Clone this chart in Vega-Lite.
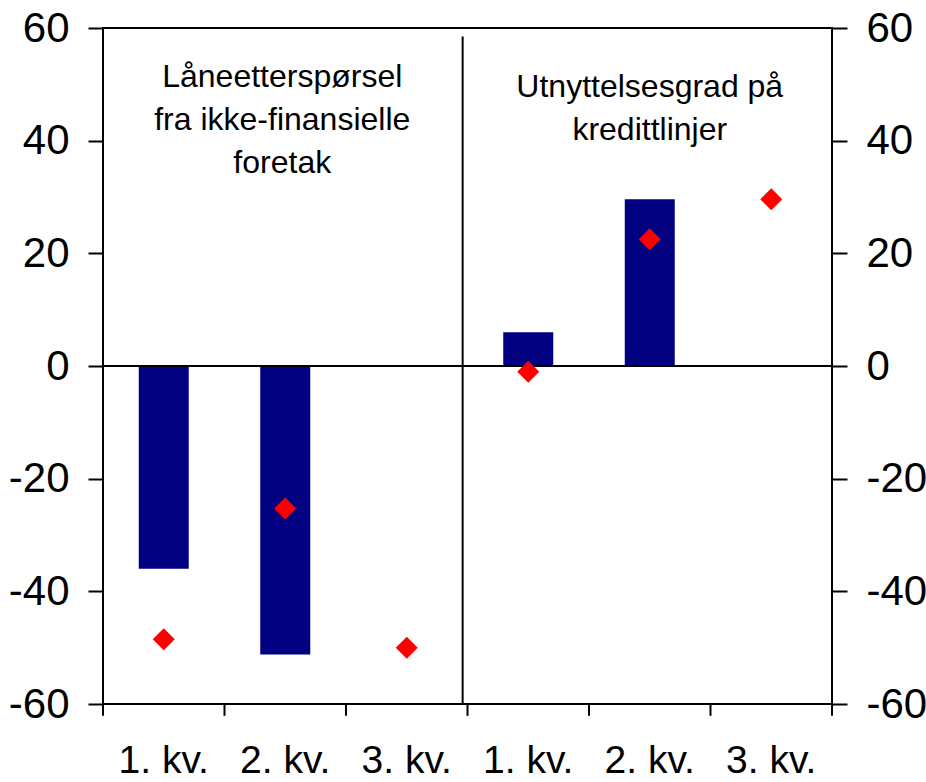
{
  "$schema": "https://vega.github.io/schema/vega-lite/v6.json",
  "width": 729,
  "height": 676,
  "padding": {"left": 8, "top": 7, "right": 0, "bottom": 0},
  "background": "white",
  "config": {
    "view": {"stroke": "black", "strokeWidth": 2},
    "font": "Liberation Sans",
    "axis": {
      "domain": false,
      "grid": false,
      "tickColor": "black",
      "tickWidth": 2,
      "labelColor": "black",
      "labelFont": "Liberation Sans",
      "labelFontSize": 42,
      "title": null
    }
  },
  "data": {
    "values": [
      {"key": "A1", "bar": -36.0, "pt": -48.5},
      {"key": "A2", "bar": -51.2, "pt": -25.3},
      {"key": "A3", "bar": null, "pt": -50.0},
      {"key": "B1", "bar": 6.0, "pt": -1.0},
      {"key": "B2", "bar": 29.6, "pt": 22.5},
      {"key": "B3", "bar": null, "pt": 29.6}
    ]
  },
  "layer": [
    {
      "mark": {"type": "bar", "color": "#000080", "size": 50},
      "encoding": {
        "x": {
          "field": "key",
          "type": "nominal",
          "scale": {"paddingInner": 0, "paddingOuter": 0},
          "axis": {
            "orient": "bottom",
            "ticks": false,
            "labelPadding": 37,
            "labelAngle": 0,
            "labelFontSize": 39,
            "labelExpr": "slice(datum.value, 1) + '. kv.'"
          }
        },
        "y": {
          "field": "bar",
          "type": "quantitative",
          "scale": {"domain": [-60, 60], "nice": false},
          "axis": {
            "orient": "left",
            "values": [-60, -40, -20, 0, 20, 40, 60],
            "tickSize": 15,
            "labelPadding": 19,
            "labelExpr": "'' + datum.value"
          }
        }
      }
    },
    {
      "mark": {"type": "rule", "color": "black", "strokeWidth": 2},
      "encoding": {
        "y": {"datum": 0, "type": "quantitative", "scale": {"domain": [-60, 60], "nice": false}, "axis": null}
      }
    },
    {
      "transform": [{"filter": "datum.key == 'A3'"}],
      "mark": {"type": "rule", "color": "black", "strokeWidth": 2},
      "encoding": {
        "x": {"field": "key", "type": "nominal", "bandPosition": 0.96},
        "y": {"datum": 58.5, "type": "quantitative", "scale": {"domain": [-60, 60], "nice": false}, "axis": null},
        "y2": {"datum": -60}
      }
    },
    {
      "mark": {"type": "rule", "color": "black", "strokeWidth": 2, "clip": false},
      "encoding": {
        "x": {"field": "key", "type": "nominal", "bandPosition": 0},
        "y": {"datum": -60, "type": "quantitative", "scale": {"domain": [-60, 60], "nice": false}, "axis": null},
        "y2": {"datum": -62.1}
      }
    },
    {
      "transform": [{"filter": "datum.key == 'B3'"}],
      "mark": {"type": "rule", "color": "black", "strokeWidth": 2, "clip": false},
      "encoding": {
        "x": {"field": "key", "type": "nominal", "bandPosition": 1},
        "y": {"datum": -60, "type": "quantitative", "scale": {"domain": [-60, 60], "nice": false}, "axis": null},
        "y2": {"datum": -62.1}
      }
    },
    {
      "mark": {"type": "point", "shape": "diamond", "filled": true, "color": "#FF0000", "size": 484, "opacity": 1, "strokeWidth": 0},
      "encoding": {
        "x": {"field": "key", "type": "nominal"},
        "y": {
          "field": "pt",
          "type": "quantitative",
          "scale": {"domain": [-60, 60], "nice": false},
          "axis": {
            "orient": "right",
            "values": [-60, -40, -20, 0, 20, 40, 60],
            "tickSize": 15,
            "labelPadding": 19,
            "labelExpr": "'' + datum.value"
          }
        }
      }
    },
    {
      "transform": [{"filter": "datum.key == 'A2'"}],
      "mark": {"type": "text", "fontSize": 32, "lineHeight": 43, "lineBreak": "\n", "align": "center", "baseline": "alphabetic", "color": "black", "dx": -3},
      "encoding": {
        "x": {"field": "key", "type": "nominal"},
        "y": {"datum": 49.6, "type": "quantitative", "scale": {"domain": [-60, 60], "nice": false}, "axis": null},
        "text": {"value": "Låneetterspørsel\nfra ikke-finansielle\nforetak"}
      }
    },
    {
      "transform": [{"filter": "datum.key == 'B2'"}],
      "mark": {"type": "text", "fontSize": 32, "lineHeight": 43, "lineBreak": "\n", "align": "center", "baseline": "alphabetic", "color": "black"},
      "encoding": {
        "x": {"field": "key", "type": "nominal"},
        "y": {"datum": 47.8, "type": "quantitative", "scale": {"domain": [-60, 60], "nice": false}, "axis": null},
        "text": {"value": "Utnyttelsesgrad på\nkredittlinjer"}
      }
    }
  ],
  "resolve": {"scale": {"y": "independent"}, "axis": {"y": "independent"}}
}
